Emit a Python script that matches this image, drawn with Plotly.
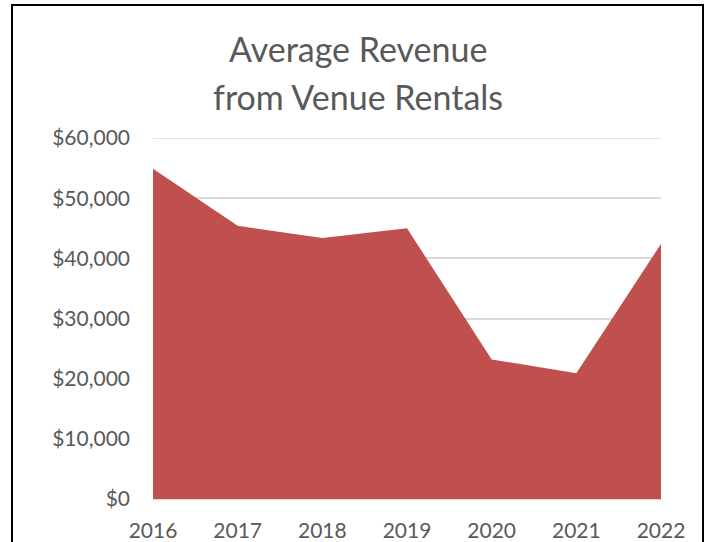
import plotly.graph_objects as go

years = ["2016", "2017", "2018", "2019", "2020", "2021", "2022"]
revenue = [54900, 45400, 43400, 45000, 23200, 20900, 42400]
y_ticks = [0, 10000, 20000, 30000, 40000, 50000, 60000]
y_tick_labels = ["$0", "$10,000", "$20,000", "$30,000", "$40,000", "$50,000", "$60,000"]

W, H = 710, 542
L, R, T, B = 153, 661, 138, 499  # plot area pixel bounds

fig = go.Figure()
fig.add_trace(go.Scatter(
    x=years, y=revenue, mode="lines", fill="tozeroy",
    line=dict(color="#C0504D", width=0), fillcolor="#C0504D",
    hoverinfo="x+y", showlegend=False,
))

font = "Lato, 'Open Sans', 'Liberation Sans', sans-serif"
fig.update_layout(
    width=W, height=H,
    margin=dict(l=L, r=W - R, t=T, b=H - B, pad=0, autoexpand=False),
    paper_bgcolor="white", plot_bgcolor="white",
    font=dict(family=font, color="#595959", size=21),
    xaxis=dict(
        type="category", range=[0, len(years) - 1], automargin=False,
        showgrid=False, zeroline=False, showline=False, ticks="",
        tickfont=dict(size=21, color="#595959"), ticklabelstandoff=17,
    ),
    yaxis=dict(
        range=[0, 60000], tickvals=y_ticks, ticktext=y_tick_labels,
        automargin=False,
        showgrid=True, gridcolor="#D9D9D9", gridwidth=1.5,
        zeroline=True, zerolinecolor="#D9D9D9", zerolinewidth=1.5,
        showline=False, ticks="",
        tickfont=dict(size=21, color="#595959"), ticklabelstandoff=22,
    ),
)

# top gridline (plotly skips the grid line lying on the plot edge)
fig.add_shape(type="line", xref="paper", yref="y", x0=0, x1=1,
              y0=y_ticks[-1], y1=y_ticks[-1],
              line=dict(color="#D9D9D9", width=1.5), layer="below")

pw, ph = R - L, B - T
def px_x(p):
    return (p - L) / pw
def px_y(p):
    return (B - p) / ph

# Title lines
fig.add_annotation(text="Average Revenue", xref="paper", yref="paper",
                   x=px_x(358), y=px_y(49), showarrow=False,
                   xanchor="center", yanchor="middle",
                   font=dict(size=34, color="#595959", family=font))
fig.add_annotation(text="from Venue Rentals", xref="paper", yref="paper",
                   x=px_x(358), y=px_y(96), showarrow=False,
                   xanchor="center", yanchor="middle",
                   font=dict(size=34, color="#595959", family=font))

# Chart border
fig.add_shape(type="rect", xref="paper", yref="paper",
              x0=px_x(12), x1=px_x(703), y0=px_y(560), y1=px_y(5),
              line=dict(color="black", width=2), fillcolor="rgba(0,0,0,0)",
              layer="above")

fig.write_html(
    "out.html",
    config={"displayModeBar": False},
    post_script="document.body.style.margin='0';document.body.style.overflow='hidden';",
)
